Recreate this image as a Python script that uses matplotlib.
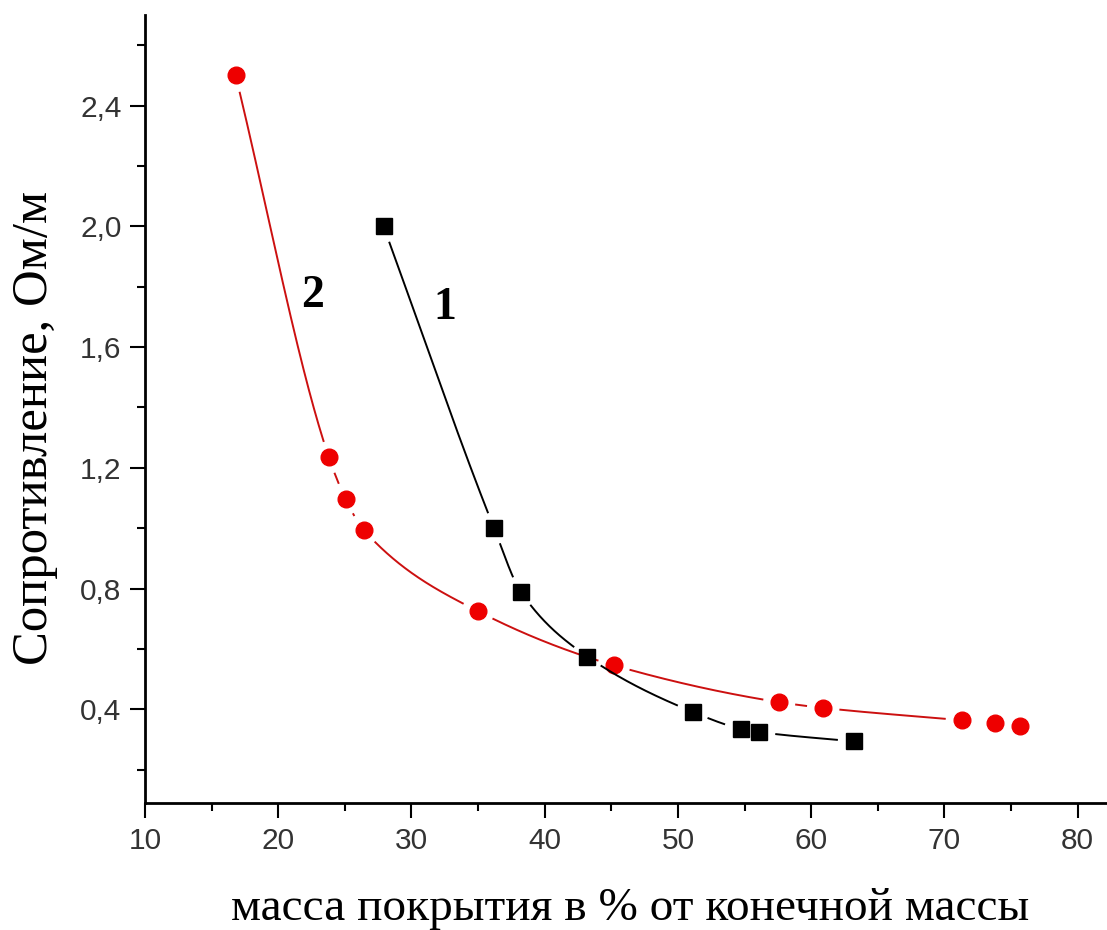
import numpy as np
import matplotlib
matplotlib.use("Agg")
import matplotlib.pyplot as plt

# Series 1: black squares
x1 = [27.9, 36.2, 38.2, 43.2, 51.1, 54.7, 56.1, 63.2]
y1 = [2.00, 1.00, 0.79, 0.575, 0.392, 0.336, 0.325, 0.294]

# Series 2: red circles
x2 = [16.8, 23.8, 25.06, 26.4, 35.0, 45.2, 57.6, 60.9, 71.3, 73.8, 75.7]
y2 = [2.50, 1.235, 1.097, 0.995, 0.725, 0.546, 0.424, 0.405, 0.364, 0.354, 0.345]

xticks = [10, 20, 30, 40, 50, 60, 70, 80]
yticks = [0.4, 0.8, 1.2, 1.6, 2.0, 2.4]
ytick_labels = ["0,4", "0,8", "1,2", "1,6", "2,0", "2,4"]

xlabel = "масса покрытия в % от конечной массы"
ylabel = "Сопротивление, Ом/м"


def pchip(x, y, xs):
    """Monotone piecewise cubic Hermite interpolation (secant end slopes)."""
    x = np.asarray(x, float)
    y = np.asarray(y, float)
    h = np.diff(x)
    d = np.diff(y) / h
    m = np.zeros_like(y)
    m[0], m[-1] = d[0], d[-1]
    for k in range(1, len(x) - 1):
        if d[k - 1] * d[k] <= 0:
            m[k] = 0.0
        else:
            w1 = 2 * h[k] + h[k - 1]
            w2 = h[k] + 2 * h[k - 1]
            m[k] = (w1 + w2) / (w1 / d[k - 1] + w2 / d[k])
    idx = np.clip(np.searchsorted(x, xs) - 1, 0, len(h) - 1)
    t = (xs - x[idx]) / h[idx]
    h00 = 2 * t**3 - 3 * t**2 + 1
    h10 = t**3 - 2 * t**2 + t
    h01 = -2 * t**3 + 3 * t**2
    h11 = t**3 - t**2
    return (h00 * y[idx] + h10 * h[idx] * m[idx]
            + h01 * y[idx + 1] + h11 * h[idx] * m[idx + 1])


W, H = 1107, 930
fig = plt.figure(figsize=(W / 100, H / 100), dpi=100)
ax = fig.add_axes([145 / W, (H - 803) / H, (W - 145) / W, (803 - 15) / H])
ax.set_xlim(10, 82.2)
ax.set_ylim(0.09, 2.7)


def gapped_curve(x, y, radius_px):
    """Smooth curve through the points, broken around each marker."""
    xs = np.linspace(x[0], x[-1], 3000)
    ys = pchip(x, y, xs)
    pts = ax.transData.transform(np.column_stack([xs, ys]))
    ctr = ax.transData.transform(np.column_stack([x, y]))
    dist = np.min(np.hypot(pts[:, None, 0] - ctr[None, :, 0],
                           pts[:, None, 1] - ctr[None, :, 1]), axis=1)
    ys = ys.copy()
    ys[dist < radius_px] = np.nan
    return xs, ys


cx2, cy2 = gapped_curve(x2, y2, 17)
ax.plot(cx2, cy2, color="#cc1010", lw=1.4, zorder=2)
ax.plot(x2, y2, "o", color="#ee0000", ms=12, mec="#ee0000", zorder=3)

cx1, cy1 = gapped_curve(x1, y1, 17)
ax.plot(cx1, cy1, color="black", lw=1.4, zorder=4)
ax.plot(x1, y1, "s", color="black", ms=11, zorder=5)

# Series labels
ax.text(22.6, 1.77, "2", family="Liberation Serif", weight="bold",
        fontsize=33, ha="center", va="center")
ax.text(32.5, 1.73, "1", family="Liberation Serif", weight="bold",
        fontsize=33, ha="center", va="center")

# Axes styling
for side in ("top", "right"):
    ax.spines[side].set_visible(False)
for side in ("left", "bottom"):
    ax.spines[side].set_linewidth(2)

ax.set_xticks(xticks)
ax.set_xticks(np.arange(15, 82, 10), minor=True)
ax.set_yticks(yticks)
ax.set_yticklabels(ytick_labels)
ax.set_yticks([0.2, 0.6, 1.0, 1.4, 1.8, 2.2, 2.6], minor=True)
ax.tick_params(which="major", direction="out", length=11, width=1.5,
               labelsize=21.5, labelcolor="#333333", pad=6)
ax.tick_params(which="minor", direction="out", length=6, width=1.5)
for lab in ax.get_xticklabels() + ax.get_yticklabels():
    lab.set_family("Liberation Sans")

fig.text(35 / W, 1 - 428 / H, ylabel, rotation=90, ha="center", va="center",
         family="Liberation Serif", fontsize=36.5)
fig.text(630 / W, 1 - 920 / H, xlabel, ha="center", va="baseline",
         family="Liberation Serif", fontsize=34)

fig.savefig("out.png", dpi=100)
